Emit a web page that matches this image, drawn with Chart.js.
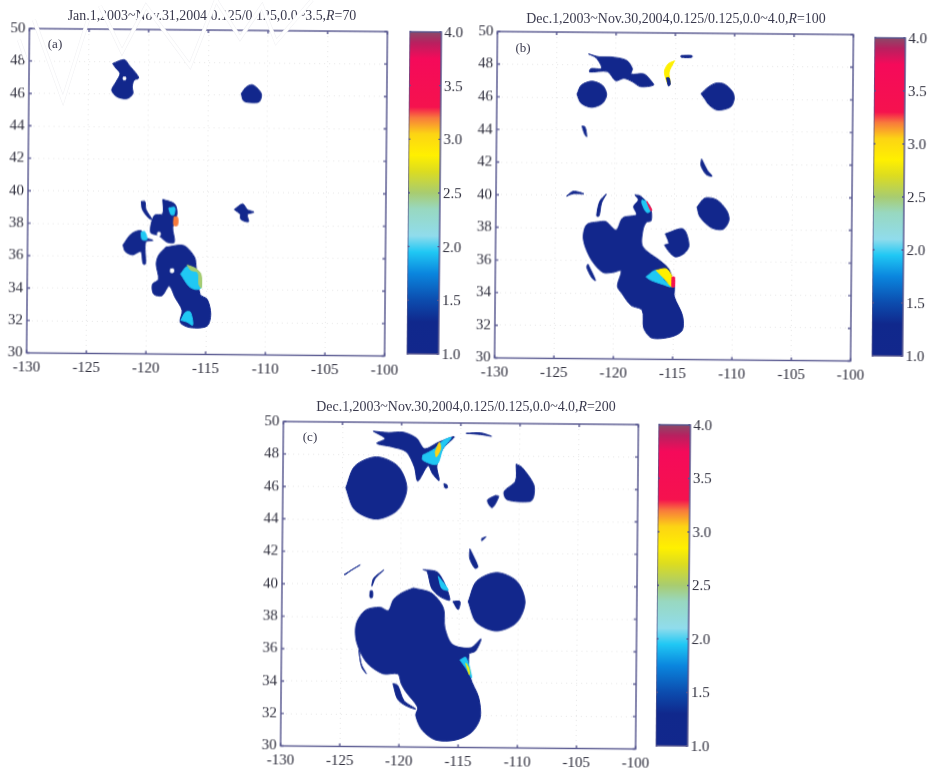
<!DOCTYPE html>
<html>
<head>
<meta charset="utf-8">
<title>Dec.1,2003~Nov.30,2004</title>
<script src="https://cdn.jsdelivr.net/npm/chart.js@4"></script>
<style>
  body { margin: 0; background: #fff; width: 932px; height: 771px; position: relative; overflow: hidden; }
  canvas { position: absolute; }
  .title, .tag { position: absolute; font-family: "Liberation Serif", serif; color: #3a3a4e; white-space: nowrap; transform: translate(-50%, -50%); }
  .title { font-size: 13.9px; }
  .tag { font-size: 13px; }
  #mark { position: absolute; left: 0; top: 0; }
</style>
</head>
<body>
<script>
const xTicks = [-130, -125, -120, -115, -110, -105, -100]
const yTicks = [30, 32, 34, 36, 38, 40, 42, 44, 46, 48, 50]
const cbTicks = [1.0, 1.5, 2.0, 2.5, 3.0, 3.5, 4.0]

// colour bar stops
const cbValues = [1.0, 1.3, 1.5, 1.75, 1.95, 2.1, 2.35, 2.5, 2.7, 2.85, 3.05, 3.2, 3.3, 3.75, 3.9, 4.0]
const cbColors = ['#12278c', '#10288c', '#0c4cae', '#0a86de', '#20c8f4', '#90dcec', '#98d8c0', '#a8cc70', '#dcdc20',
  '#fff000', '#fcd414', '#f87a3c', '#f5124e', '#f50a5a', '#b8205f', '#8a4a68']

// panel (a) outlines, [lon, lat]
const aNorthWest = [[-123, 47.88], [-122.03, 48.13], [-121.6, 47.78], [-120.8, 47.02], [-121.2, 46.86], [-121.34, 46.45], [-121.28, 46.04], [-121.75, 45.73], [-122.6, 45.83], [-123.06, 46.24], [-122.7, 46.76], [-122.37, 47.27], [-122.7, 47.58]]
const aNorthEast = [[-112.2, 46.1], [-111.8, 46.5], [-111.3, 46.65], [-110.8, 46.4], [-110.5, 46.05], [-110.7, 45.6], [-111.4, 45.55], [-112, 45.65]]
const aSliver = [[-120.5, 39.4], [-120.2, 39.4], [-120.1, 38.9], [-119.6, 38.3], [-119.9, 38.4], [-120.4, 38.9]]
const aMiddle = [[-118.7, 39.53], [-117.7, 39.26], [-117.5, 38.64], [-117.85, 37.82], [-117.7, 36.9], [-118.3, 36.9], [-119, 37.3], [-119.7, 37.5], [-119.4, 38.54], [-118.7, 38.64]]
const aWest = [[-122, 36.7], [-121.3, 37.4], [-120.5, 37.6], [-120.2, 37.2], [-119.5, 37], [-120.1, 36.9], [-120.1, 35.55], [-120.3, 35.55], [-120.5, 36.3], [-121.2, 36.1], [-121.8, 36.3]]
const aCentre = [[-118.4, 36.6], [-116.9, 36.7], [-116, 36], [-115.85, 35.36], [-115.5, 33.7], [-114.9, 33.4], [-114.6, 32.5], [-114.9, 31.75], [-116.3, 31.65], [-117.15, 31.97], [-117, 32.7], [-117.6, 33.5], [-118.1, 34.2], [-118.7, 33.6], [-119.4, 33.7], [-119.5, 34.3], [-119, 34.6], [-119.2, 35.55], [-119, 36.1]]
const aEast = [[-112.7, 38.95], [-112, 39.3], [-111.6, 38.95], [-111.05, 38.8], [-111.6, 38.65], [-111.5, 38.2], [-112.15, 38.35], [-112.2, 38.65]]
const aCyanCentre = [[-117.15, 34.95], [-116.6, 35.42], [-115.9, 35.25], [-115.5, 34.95], [-115.43, 34.1], [-115.9, 34], [-116.45, 34.2]]
const aFringe = [[-116.6, 35.5], [-115.9, 35.3], [-115.45, 34.95], [-115.4, 34.1], [-115.6, 34.3], [-115.7, 35.05], [-116.3, 35.2]]
const aRed = [[-117.75, 38.45], [-117.45, 38.45], [-117.45, 37.95], [-117.75, 37.95]]
const aCyanTop = [[-118.2, 39], [-117.7, 39.05], [-117.75, 38.6], [-118, 38.6]]
const aCyanWest = [[-120.5, 37.5], [-120.2, 37.55], [-120, 37.05], [-120.4, 37.05]]
const aCyanSouth = [[-117.1, 32.1], [-116.7, 32.6], [-116.3, 32.6], [-116.1, 31.8], [-116.6, 32]]
const aHoleA = [[-122.1, 47.05], [-121.9, 47.05], [-121.9, 46.9], [-122.1, 46.9]]
const aHoleB = [[-118, 35.25], [-117.75, 35.25], [-117.75, 35.05], [-118, 35.05]]
const aHoleC = [[-119.1, 37.5], [-118.9, 37.5], [-118.9, 37.3], [-119.1, 37.3]]

// panel (b) outlines
const bCircle = [[-123.25, 46.2], [-122.9, 46.75], [-122, 47], [-121.1, 46.75], [-120.75, 46.2], [-121.1, 45.65], [-122, 45.4], [-122.9, 45.65]]
const bNorth = [[-122.3, 48.67], [-121.4, 48.5], [-120.4, 48.5], [-119.1, 48.3], [-118.6, 47.8], [-118.7, 47.47], [-117.6, 47.47], [-117, 47.05], [-116.8, 46.8], [-117.9, 46.7], [-118.6, 47], [-119.3, 47.2], [-120, 47.05], [-120.7, 47.6], [-122.2, 47.57], [-122.1, 47.77], [-121.2, 47.8], [-121.65, 48.43]]
const bCrescent = [[-115.05, 48.3], [-115.6, 48.1], [-115.9, 47.6], [-115.55, 46.8], [-115.4, 46.9], [-115.5, 47.6]]
const bCrescentTail = [[-115.72, 47.25], [-115.5, 47.25], [-115.4, 46.85], [-115.55, 46.75]]
const bSmallTop = [[-114.5, 48.63], [-113.6, 48.63], [-113.6, 48.52], [-114.5, 48.52]]
const bNorthEast = [[-112.8, 46.3], [-112.2, 46.7], [-111.55, 46.95], [-110.85, 46.9], [-110.15, 46.45], [-110, 46], [-110.3, 45.5], [-111.4, 45.3], [-112.1, 45.6], [-112.5, 46]]
const bSpeck = [[-122.8, 44.25], [-122.55, 44.2], [-122.4, 43.6], [-122.6, 43.8]]
const bArc = [[-112.7, 42.3], [-112.2, 41.6], [-111.8, 41.25], [-112.3, 41.35], [-112.75, 41.9]]
const bCoast = [[-124.05, 39.95], [-123.5, 40.25], [-122.6, 40.1], [-123.5, 40.1]]
const bThin = [[-120.7, 40.1], [-121.1, 39.55], [-121.3, 38.75], [-121.5, 38.75], [-121.25, 39.65]]
const bEast = [[-113.05, 39.35], [-112.4, 39.9], [-111.4, 39.8], [-110.55, 39.15], [-110.35, 38.55], [-110.85, 38], [-111.85, 38.1], [-112.8, 38.75]]
const bSmall = [[-115.7, 37.7], [-114.2, 38], [-113.7, 37], [-114.1, 36.5], [-114.9, 36.3], [-115.75, 37], [-115.4, 37.1]]
const bBig = [[-118.3, 40.06], [-117.85, 40], [-117, 39.35], [-116.9, 38.5], [-117.3, 38.4], [-117.6, 37.9], [-117.6, 36.9], [-116.05, 36], [-115.35, 35.5], [-114.9, 34.45], [-114.9, 33.85], [-114.2, 32.7], [-114.2, 31.8], [-115.05, 31.4], [-116.75, 31.3], [-117.45, 31.9], [-117.6, 33], [-118.55, 33.3], [-119.3, 34], [-119.7, 34.45], [-119.4, 35.4], [-120.1, 35.3], [-120.95, 35.3], [-121.95, 36.1], [-122.6, 37.3], [-122.35, 38.2], [-121.25, 38.4], [-120.7, 38.4], [-119.85, 37.9], [-119.3, 38.65], [-118.15, 38.85], [-118.4, 39.35], [-118, 39.75]]
const bSouthWest = [[-122.2, 35.8], [-121.55, 34.8], [-121.85, 34.95], [-122.3, 35.6]]
const bCyanTop = [[-117.7, 39.75], [-117.3, 39.65], [-116.95, 39.1], [-117.3, 39], [-117.7, 39.55]]
const bRedTop = [[-117.3, 39.68], [-116.85, 39.15], [-116.95, 39.1]]
const bCyanMid = [[-117.3, 35.05], [-116.45, 35.45], [-115.75, 34.85], [-115.2, 34.45], [-115.9, 34.6], [-116.9, 34.85]]
const bYellowMid = [[-116.45, 35.45], [-115.6, 35.55], [-115.1, 35.05], [-115.1, 34.45], [-115.75, 34.95]]
const bRedMid = [[-115.1, 35.05], [-114.9, 35.05], [-114.9, 34.45], [-115.1, 34.45]]

// panel (c) outlines
const cCircle = [[-124.68, 45.95], [-123.92, 47.3], [-122.1, 47.87], [-120.28, 47.3], [-119.52, 45.95], [-120.28, 44.6], [-122.1, 44.03], [-123.92, 44.6]]
const cNorth = [[-122.4, 49.45], [-121.1, 49.37], [-119.85, 49.4], [-118.75, 49.05], [-118.05, 48.4], [-116.9, 48.8], [-115.55, 49.15], [-116.5, 48.4], [-117, 47.35], [-116.8, 46.45], [-117.35, 46.85], [-117.75, 47.35], [-118.6, 46.4], [-118.9, 47.27], [-119.6, 48.2], [-120.85, 48.5], [-122.1, 48.7], [-121.4, 49]]
const cCyan = [[-118.2, 48], [-117.2, 48.4], [-116.5, 48.9], [-115.8, 49.1], [-116.5, 48.4], [-117, 47.45], [-118.2, 47.7]]
const cOrange = [[-117.15, 48.2], [-116.8, 48.8], [-116.7, 48.4], [-117.05, 47.9]]
const cTopStrip = [[-114.55, 49.37], [-113.3, 49.4], [-112.4, 49.2], [-113.3, 49.3]]
const cNorthEast = [[-110.3, 47.5], [-109.8, 47.3], [-108.8, 46.25], [-108.8, 45.5], [-109.1, 45.2], [-111.05, 45.3], [-111.3, 45.8], [-110.35, 46.45]]
const cBits = [[-112.05, 45.55], [-111.75, 45.5], [-112.3, 44.8], [-112.7, 45.25]]
const cDot = [[-116.4, 46.25], [-116.15, 46.2], [-116.1, 46], [-116.3, 46]]
const cArc = [[-114.15, 42.25], [-113.45, 41.15], [-113.7, 41.05], [-114.15, 41.65]]
const cArcTop = [[-113.15, 42.9], [-112.8, 43], [-113.15, 42.75]]
const cCoast = [[-124.75, 40.6], [-123.4, 41.2], [-124.2, 40.85], [-124.65, 40.6]]
const cThin = [[-121.4, 40.9], [-122.1, 40.4], [-122.4, 39.9], [-122.25, 40.4]]
const cThinDot = [[-122.55, 39.6], [-122.35, 39.6], [-122.35, 39.2], [-122.55, 39.2]]
const cEast = [[-114.25, 39], [-113.55, 40.27], [-111.85, 40.8], [-110.15, 40.27], [-109.45, 39], [-110.15, 37.73], [-111.85, 37.2], [-113.55, 37.73]]
const cTail = [[-118.1, 40.95], [-116.8, 40.75], [-115.8, 39.1], [-116.65, 39.3], [-117.35, 39.8], [-117.75, 40.85]]
const cTailCyan = [[-116.8, 40.55], [-115.95, 39.7], [-116.5, 39.8]]
const cSpot = [[-115.55, 39], [-114.95, 39], [-115.1, 38.5]]
const cBig = [[-118.9, 39.8], [-117.35, 39.5], [-116.35, 38.6], [-116.2, 37.35], [-115.55, 36.35], [-114, 36.15], [-113.15, 36.7], [-113.6, 35.95], [-114.15, 35.75], [-114, 34.3], [-113.3, 33.1], [-113.15, 31.85], [-113.85, 30.95], [-115.25, 30.45], [-116.9, 30.45], [-118.05, 31.05], [-118.6, 31.95], [-118.45, 32.45], [-119.45, 33.4], [-119.85, 33.9], [-120.15, 34.5], [-121.4, 34.5], [-122.8, 35.2], [-123.65, 36.45], [-123.7, 37.55], [-122.95, 38.4], [-121.7, 38.6], [-121, 38.4], [-120.55, 39.1], [-119.85, 39.5]]
const cFringeSouth = [[-120.55, 33.9], [-120.15, 33.8], [-119.6, 32.85], [-118.6, 32.35], [-119.45, 32.55], [-120.15, 32.95]]
const cFringeWest = [[-123.45, 35.95], [-123.25, 35.1], [-122.8, 34.5], [-123.2, 34.9]]
const cCyanMid = [[-114.9, 35.4], [-114.4, 35.55], [-113.9, 34.3], [-114.4, 34.9]]
const cYellowMid = [[-114.4, 35.2], [-114.15, 34.9], [-114.1, 34.5]]

// shape + value, later ones lie on top; null = hole
const layersA = [[aNorthWest, 1.1], [aNorthEast, 1.1], [aSliver, 1.1], [aMiddle, 1.1], [aWest, 1.1], [aCentre, 1.1], [aEast, 1.1],
  [aCyanCentre, 2.05], [aFringe, 2.6], [aRed, 3.25], [aCyanTop, 1.95], [aCyanWest, 1.95], [aCyanSouth, 1.95], [aHoleA, null], [aHoleB, null], [aHoleC, null]]
const layersB = [[bCircle, 1.1], [bNorth, 1.1], [bCrescent, 2.85], [bCrescentTail, 1.1], [bSmallTop, 1.1], [bNorthEast, 1.1], [bSpeck, 1.1], [bArc, 1.1], [bCoast, 1.1], [bThin, 1.1],
  [bEast, 1.1], [bSmall, 1.1], [bBig, 1.1], [bSouthWest, 1.1], [bCyanTop, 2.05], [bRedTop, 3.3], [bCyanMid, 2.05], [bYellowMid, 2.95], [bRedMid, 3.3]]
const layersC = [[cCircle, 1.1], [cNorth, 1.1], [cCyan, 2.05], [cOrange, 3.05], [cTopStrip, 1.1], [cNorthEast, 1.1], [cBits, 1.1], [cDot, 1.1], [cArc, 1.1], [cArcTop, 1.1],
  [cCoast, 1.1], [cThin, 1.1], [cThinDot, 1.1], [cEast, 1.1], [cTail, 1.1], [cTailCyan, 2.05], [cSpot, 1.1], [cBig, 1.1], [cFringeSouth, 1.1], [cFringeWest, 1.1], [cCyanMid, 1.95], [cYellowMid, 2.85]]

Chart.defaults.font.family = '"Liberation Serif", serif'
Chart.defaults.font.size = 15
Chart.defaults.color = '#30303e'
Chart.defaults.animation = false

function colorOf(v) {
  if (v === null) return '#ffffff'
  let c = cbColors[0]
  for (let i = 0; i < cbValues.length; i++) {
    if (v >= cbValues[i]) c = cbColors[i]
  }
  return c
}

// the scanned page sits about half a degree clockwise, turn each panel round its plot centre
function addCanvas(left, top, w, h, cx, cy) {
  const canvas = document.createElement('canvas')
  const box = document.createElement('div')
  box.style.cssText = `position:absolute;left:${left}px;top:${top}px;width:${w}px;height:${h}px;` +
    `transform:rotate(0.5deg);transform-origin:${cx - left}px ${cy - top}px`
  box.appendChild(canvas)
  document.body.appendChild(box)
  return canvas
}

function addText(cls, html, x, y) {
  const el = document.createElement('div')
  el.className = cls
  el.innerHTML = html
  el.style.left = x + 'px'
  el.style.top = y + 'px'
  document.body.appendChild(el)
}

// frame and inward ticks on all four sides
const framePlugin = {
  id: 'frame',
  afterDraw(chart) {
    const { ctx, chartArea: a, scales } = chart
    ctx.save()
    ctx.strokeStyle = '#55558e'
    ctx.lineWidth = 1.4
    ctx.strokeRect(a.left, a.top, a.right - a.left, a.bottom - a.top)
    ctx.beginPath()
    if (scales.x.options.display) {
      xTicks.forEach(t => {
        const px = scales.x.getPixelForValue(t)
        ctx.moveTo(px, a.bottom); ctx.lineTo(px, a.bottom - 3)
        ctx.moveTo(px, a.top); ctx.lineTo(px, a.top + 3)
      })
      yTicks.forEach(t => {
        const py = scales.y.getPixelForValue(t)
        ctx.moveTo(a.left, py); ctx.lineTo(a.left + 3, py)
        ctx.moveTo(a.right, py); ctx.lineTo(a.right - 3, py)
      })
    } else {
      cbTicks.forEach(t => {
        const py = scales.y.getPixelForValue(t)
        ctx.moveTo(a.left, py); ctx.lineTo(a.left + 2, py)
        ctx.moveTo(a.right, py); ctx.lineTo(a.right - 2, py)
      })
    }
    ctx.stroke()
    ctx.restore()
  }
}

function drawMap(layers, left, top, w, h) {
  // the y scale keeps about 12.5px above the plot whatever the padding
  const canvas = addCanvas(left - 30, top - 12.5, w + 30 + 30, h + 12.5 + 30, left + w / 2, top + h / 2)
  new Chart(canvas, {
    type: 'line',
    data: {
      datasets: layers.map(([shape, value], i) => ({
        data: shape.concat([shape[0]]).map(p => ({ x: p[0], y: p[1] })),
        order: layers.length - i,
        backgroundColor: colorOf(value),
        borderColor: colorOf(value),
        borderWidth: 1,
        pointRadius: 0,
        tension: 0.3,
        fill: 'shape'
      }))
    },
    options: {
      responsive: true,
      maintainAspectRatio: false,
      layout: { autoPadding: false, padding: { left: 0, top: 7, right: 30, bottom: 0 } },
      plugins: { legend: { display: false }, tooltip: { enabled: false } },
      scales: {
        x: {
          type: 'linear', min: -130, max: -100,
          afterFit: s => { s.height = 30 },
          afterBuildTicks: s => { s.ticks = xTicks.map(v => ({ value: v })) },
          border: { display: false, dash: [1, 4] },
          grid: { color: 'rgba(185,185,185,0.35)', tickLength: 0, drawTicks: false, lineWidth: 1 },
          ticks: { maxRotation: 0, padding: 6, autoSkip: false }
        },
        y: {
          type: 'linear', min: 30, max: 50,
          afterFit: s => { s.width = 30 },
          afterBuildTicks: s => { s.ticks = yTicks.map(v => ({ value: v })) },
          border: { display: false, dash: [1, 4] },
          grid: { color: 'rgba(185,185,185,0.35)', tickLength: 0, drawTicks: false, lineWidth: 1 },
          ticks: { padding: 4, autoSkip: false }
        }
      }
    },
    plugins: [framePlugin]
  })
}

function drawColorBar(left, top, w, h, cx, cy) {
  const canvas = addCanvas(left, top - 10, w + 28, h + 20, cx, cy)
  new Chart(canvas, {
    type: 'bar',
    data: {
      labels: [''],
      datasets: [{
        data: [[cbTicks[0], cbTicks[cbTicks.length - 1]]],
        categoryPercentage: 1,
        barPercentage: 1,
        backgroundColor: ctx => {
          const { chart } = ctx
          if (!chart.chartArea) return cbColors[0]
          const y = chart.scales.y
          const g = chart.ctx.createLinearGradient(0, y.getPixelForValue(1), 0, y.getPixelForValue(4))
          cbValues.forEach((v, i) => g.addColorStop((v - 1) / 3, cbColors[i]))
          return g
        }
      }]
    },
    options: {
      responsive: true,
      maintainAspectRatio: false,
      layout: { autoPadding: false, padding: { left: 0, top: 10, right: 0, bottom: 10 } },
      plugins: { legend: { display: false }, tooltip: { enabled: false } },
      scales: {
        x: { display: false },
        y: {
          position: 'right', min: 1, max: 4,
          afterFit: s => { s.width = 28 },
          afterBuildTicks: s => { s.ticks = cbTicks.map(v => ({ value: v })) },
          border: { display: false },
          grid: { display: false, drawTicks: false, tickLength: 0 },
          ticks: { padding: 3, labelOffset: 1, callback: v => v.toFixed(1) }
        }
      }
    },
    plugins: [framePlugin]
  })
}

drawMap(layersA, 28, 29, 358, 324)
drawColorBar(408, 28, 32, 326, 207, 191)
addText('title', 'Jan.1,2003~Nov.31,2004,0.125/0.125,0.0~3.5,<i>R</i>=70', 212, 16)
addText('tag', '(a)', 55, 44)

drawMap(layersB, 496, 32, 356, 326)
drawColorBar(873, 34, 31, 322, 674, 195)
addText('title', 'Dec.1,2003~Nov.30,2004,0.125/0.125,0.0~4.0,<i>R</i>=100', 676, 19)
addText('tag', '(b)', 523, 48)

drawMap(layersC, 282, 422, 355, 324)
drawColorBar(657, 421, 32, 325, 460, 584)
addText('title', 'Dec.1,2003~Nov.30,2004,0.125/0.125,0.0~4.0,<i>R</i>=200', 466, 407)
addText('tag', '(c)', 310, 437)

// faint website watermark stamped over the top of the first panel
const markPaths = ['M19,40 L26,60', 'M34,20 L63,100 L88,20', 'M100,6 L122,52 L146,6 L190,66 L216,0', 'M216,0 L240,38 L262,6 L276,42 L312,0']
const svgNs = 'http://www.w3.org/2000/svg'
const mark = document.createElementNS(svgNs, 'svg')
mark.setAttribute('id', 'mark')
mark.setAttribute('width', '932')
mark.setAttribute('height', '120')
;[['#efeff2', 4], ['#ffffff', 3]].forEach(([color, width]) => {
  markPaths.forEach(d => {
    const p = document.createElementNS(svgNs, 'path')
    p.setAttribute('d', d)
    p.setAttribute('fill', 'none')
    p.setAttribute('stroke', color)
    p.setAttribute('stroke-width', width)
    mark.appendChild(p)
  })
})
document.body.appendChild(mark)
</script>
</body>
</html>
